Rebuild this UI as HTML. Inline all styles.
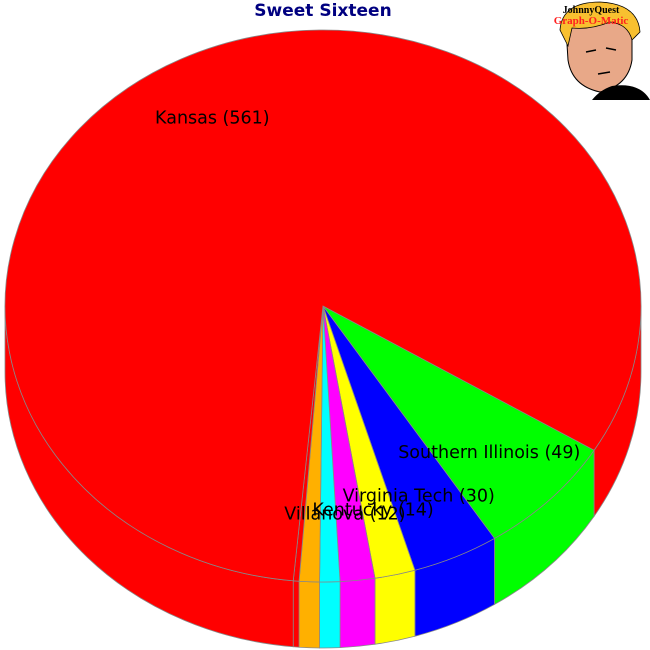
<!DOCTYPE html>
<html><head><meta charset="utf-8"><style>
body{margin:0;background:#fff;}
svg{display:block;font-family:"DejaVu Sans","Liberation Sans",sans-serif;}
</style></head><body>
<svg id="chart" width="650" height="650" viewBox="0 0 650 650">
<text x="323" y="16" text-anchor="middle" font-weight="bold" font-size="17" fill="#000080">Sweet Sixteen</text>
<g id="slices"></g>
<g id="labels"></g>
<g>
<rect x="548" y="0" width="102" height="100" fill="#fff"/>
<path d="M566 28 Q570 4 600 4 Q628 6 632 30 L632 60 Q628 86 600 92 Q572 86 568 60 Z" fill="#e8a888" stroke="#000" stroke-width="1"/>
<path d="M560 30 Q562 2 600 2 Q638 4 640 32 L632 40 Q628 24 610 22 Q590 30 572 28 L568 46 Z" fill="#f8c030" stroke="#000" stroke-width="0.8"/>
<path d="M592 100 Q600 90 612 86 Q640 82 650 100 Z" fill="#000"/>
<path d="M586 52 l10 -2 M606 48 l10 2 M598 74 l12 -2" stroke="#000" stroke-width="1.5"/>
<text x="591" y="13" text-anchor="middle" font-family="Liberation Serif,serif" font-weight="bold" font-size="10" fill="#000">JohnnyQuest</text>
<text x="591" y="24" text-anchor="middle" font-family="Liberation Serif,serif" font-weight="bold" font-size="11" fill="#ff2020">Graph-O-Matic</text>
</g>
</svg>
<script>
const categories = ["Southern Illinois","Virginia Tech","Kentucky","Villanova","Other A","Other B","Other C","Kansas"];
const values = [49,30,14,12,7,7,2,561];
const showLabel = [true,true,true,true,false,false,false,true];
const colors = ["#00ff00","#0000ff","#ffff00","#ff00ff","#00ffff","#ffb000","#ff0000","#ff0000"];
const startAngle = 31.5;
const cx=323, cy=306, rx=318, ry=276, depth=66;
const ns="http://www.w3.org/2000/svg";
const total = values.reduce((a,b)=>a+b,0);
const g=document.getElementById('slices'), lg=document.getElementById('labels');
function pt(a,dy){const r=a*Math.PI/180;return [cx+rx*Math.cos(r), cy+ry*Math.sin(r)+(dy||0)];}
function arc(a1,a2,dy,sweep){const p=pt(a2,dy);const large=Math.abs(a2-a1)>180?1:0;return `A${rx},${ry} 0 ${large} ${sweep} ${p[0].toFixed(2)},${p[1].toFixed(2)}`;}
const spans=[];let a=startAngle;
values.forEach((v,i)=>{const s=v/total*360;spans.push([a,a+s]);a+=s;});
spans.forEach((sp,i)=>{
  for(const off of [0,360,-360]){
    const s=Math.max(sp[0]+off,0), e=Math.min(sp[1]+off,180);
    if(e>s){
      const p1=pt(s),p3=pt(e,depth),p4=pt(s,depth);
      const path=document.createElementNS(ns,'path');
      path.setAttribute('d',`M${p1[0]},${p1[1]} ${arc(s,e,0,1)} L${p3[0]},${p3[1]} A${rx},${ry} 0 0 0 ${p4[0]},${p4[1]} Z`);
      path.setAttribute('fill',colors[i]);path.setAttribute('stroke','#888');path.setAttribute('stroke-width','0.8');
      
      
      g.appendChild(path);
    }
  }
});
spans.forEach((sp,i)=>{
  const p1=pt(sp[0]);
  const path=document.createElementNS(ns,'path');
  path.setAttribute('d',`M${cx},${cy} L${p1[0]},${p1[1]} ${arc(sp[0],sp[1],0,1)} Z`);
  path.setAttribute('fill',colors[i]);path.setAttribute('stroke','#888');path.setAttribute('stroke-width','0.8');
  
  
  g.appendChild(path);
  if(showLabel[i]){
    const m=(sp[0]+sp[1])/2*Math.PI/180;
    const t=document.createElementNS(ns,'text');
    t.setAttribute('x',cx+0.75*rx*Math.cos(m)-4);t.setAttribute('y',cy+0.76*ry*Math.sin(m)+5);
    t.setAttribute('text-anchor','middle');t.setAttribute('font-size','17.5');t.setAttribute('fill','#000');
    t.setAttribute('font-family','DejaVu Sans, sans-serif');
    t.textContent=categories[i]+' ('+values[i]+')';
    
    
    lg.appendChild(t);
  }
});
</script>
</body></html>
